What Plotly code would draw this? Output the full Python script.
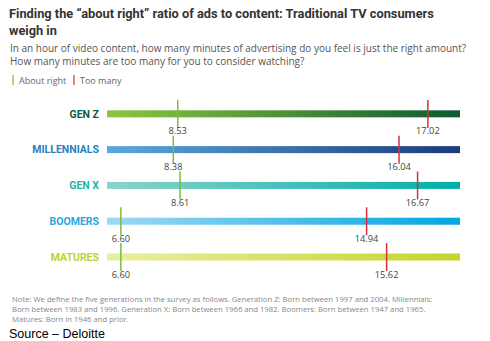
import numpy as np
import plotly.graph_objects as go

# ---- data ----
generations = ["GEN Z", "MILLENNIALS", "GEN X", "BOOMERS", "MATURES"]
about_right = [8.53, 8.38, 8.61, 6.60, 6.60]
too_many = [17.02, 16.04, 16.67, 14.94, 15.62]
label_colors = ["#0f5c36", "#2a7fc0", "#1fb3aa", "#2aa6dc", "#c2d12f"]
grad_start = ["#8cc63f", "#5aa8dd", "#8ad3cb", "#9fd8f3", "#e9efa0"]
grad_end = ["#0d5a32", "#1b3b7e", "#00b0a6", "#00a7e0", "#c4d52c"]
GREEN, RED = "#7dbb42", "#d3323a"

X_MIN, X_MAX = 6.13, 18.11
W, H = 490, 341
L, R, T, B = 107, 30, 96, 66
PW, PH = W - L - R, H - T - B


def px(x):
    return (x - L) / PW


def py(y):
    return (H - B - y) / PH


fig = go.Figure()
rows = list(range(len(generations)))
edges = np.linspace(X_MIN, X_MAX, 121)
for i in rows:
    fig.add_trace(go.Heatmap(
        x=edges, y=[i - 0.1, i + 0.1],
        z=[np.linspace(0, 1, len(edges) - 1)],
        colorscale=[[0, grad_start[i]], [1, grad_end[i]]],
        showscale=False, hoverinfo="skip"))

for vals, col, name in [(about_right, GREEN, "About right"), (too_many, RED, "Too many")]:
    fig.add_trace(go.Scatter(
        x=vals, y=rows, mode="markers+text", name=name, cliponaxis=False,
        marker=dict(symbol="line-ns", size=20, line=dict(color=col, width=1.5)),
        text=[f"{v:.2f}" for v in vals], textposition="bottom center",
        textfont=dict(family="Open Sans", size=9.3, color="#444")))

ticktext = [f"<span style='color:{c}'><b>{g}</b></span>" for g, c in zip(generations, label_colors)]

fig.update_layout(
    width=W, height=H,
    margin=dict(l=L, r=R, t=T, b=B, autoexpand=False),
    paper_bgcolor="white", plot_bgcolor="white",
    xaxis=dict(range=[X_MIN, X_MAX], visible=False, fixedrange=True),
    yaxis=dict(range=[4.5, -0.5], tickmode="array", tickvals=rows, ticktext=ticktext,
               showgrid=False, zeroline=False, showline=False, ticks="",
               ticklabelstandoff=7, automargin=False,
               tickfont=dict(family="Roboto", size=10.5)),
    showlegend=False,
)

fig.add_annotation(
    text="<b>Finding the “about right” ratio of ads to content: Traditional TV consumers<br>weigh in</b>",
    xref="paper", yref="paper", x=px(7), y=py(4), xanchor="left", yanchor="top",
    align="left", showarrow=False, font=dict(family="Roboto", size=12.8, color="#333"))

# legend
for xp, col, label in [(13, GREEN, "About right"), (74, RED, "Too many")]:
    fig.add_shape(type="line", xref="paper", yref="paper", x0=px(xp), x1=px(xp),
                  y0=py(75), y1=py(85), line=dict(color=col, width=1.2))
    fig.add_annotation(text=label, xref="paper", yref="paper", x=px(xp + 4), y=py(80),
                       xanchor="left", yanchor="middle", showarrow=False,
                       font=dict(family="Open Sans", size=9, color="#666"))

fig.add_annotation(
    text="In an hour of video content, how many minutes of advertising do you feel is just the right amount?<br>How many minutes are too many for you to consider watching?",
    xref="paper", yref="paper", x=px(8), y=py(39), xanchor="left", yanchor="top",
    align="left", showarrow=False, font=dict(family="Open Sans", size=10, color="#555"))

fig.add_annotation(
    text="Note: We define the five generations in the survey as follows. Generation Z: Born between 1997 and 2004. Millennials:<br>Born between 1983 and 1996. Generation X: Born between 1966 and 1982. Boomers: Born between 1947 and 1965.<br>Matures: Born in 1946 and prior.",
    xref="paper", yref="paper", x=px(10), y=py(292), xanchor="left", yanchor="top",
    align="left", showarrow=False, font=dict(family="Open Sans", size=7.7, color="#888"))

fig.add_annotation(
    text="Source – Deloitte",
    xref="paper", yref="paper", x=px(7), y=py(325), xanchor="left", yanchor="top",
    align="left", showarrow=False, font=dict(family="Liberation Sans, Arial", size=12.5, color="#000"))

fig.write_html("out.html")
